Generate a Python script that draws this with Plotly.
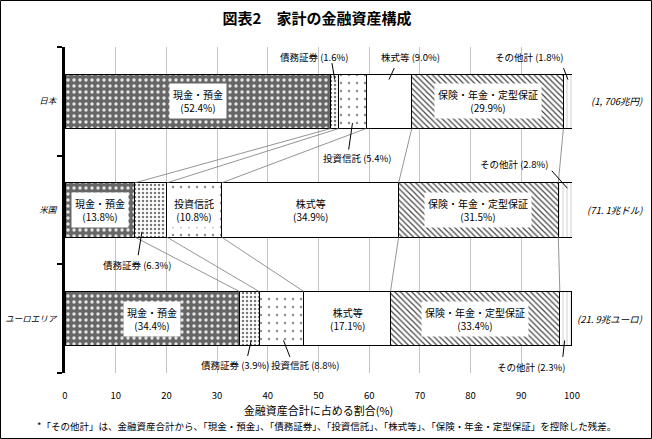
import plotly.graph_objects as go

# ---------------- data ----------------
regions = ["日本", "米国", "ユーロエリア"]
region_y = [2, 1, 0]
totals = ["(1, 706兆円)", "(71. 1兆ドル)", "(21. 9兆ユーロ)"]
components = ["現金・預金", "債務証券", "投資信託", "株式等", "保険・年金・定型保証", "その他計"]
cash = [52.4, 13.8, 34.4]
debt = [1.6, 6.3, 3.9]
funds = [5.4, 10.8, 8.8]
equity = [9.0, 34.9, 17.1]
insurance = [29.9, 31.5, 33.4]
other = [1.8, 2.8, 2.3]
x_ticks = list(range(0, 101, 10))

title = "図表2　家計の金融資産構成"
x_title = "金融資産合計に占める割合(%)"
footnote = "*「その他計」は、金融資産合計から、「現金・預金」、「債務証券」、「投資信託」、「株式等」、「保険・年金・定型保証」を控除した残差。"

series = [cash, debt, funds, equity, insurance, other]

# ---------------- styles ----------------
FONT = "Noto Sans CJK JP"
patterns = [
    dict(shape=".", bgcolor="#666666", fgcolor="#e6e6e6", size=6, solidity=0.25, fillmode="replace"),
    dict(shape=".", bgcolor="#ffffff", fgcolor="#777777", size=4, solidity=0.3, fillmode="replace"),
    dict(shape=".", bgcolor="#ffffff", fgcolor="#8a8a8a", size=8, solidity=0.07, fillmode="replace"),
    dict(shape="", bgcolor="#ffffff", fgcolor="#ffffff", size=8, solidity=0.1, fillmode="replace"),
    dict(shape="\\", bgcolor="#ffffff", fgcolor="#444444", size=4, solidity=0.3, fillmode="replace"),
    dict(shape="|", bgcolor="#ffffff", fgcolor="#a0a0a0", size=4, solidity=0.12, fillmode="replace"),
]

ML, MR, MT, MB = 65, 80, 47, 66
W, H = 652, 439
PW, PH = W - ML - MR, H - MT - MB

fig = go.Figure()
for name, vals, pat in zip(components, series, patterns):
    fig.add_trace(go.Bar(
        x=vals, y=region_y, orientation="h", name=name, width=0.5,
        marker=dict(color=pat["bgcolor"], line=dict(color="black", width=1), pattern=pat),
        hoverinfo="skip",
    ))

# cumulative positions
starts, mids, ends = [], [], []
for r in range(len(regions)):
    s, st, md, en = 0.0, [], [], []
    for vals in series:
        st.append(s)
        md.append(s + vals[r] / 2)
        s += vals[r]
        en.append(s)
    starts.append(st); mids.append(md); ends.append(en)

# connector lines between consecutive bars
for r in range(len(regions) - 1):
    for k in range(len(series) - 1):
        fig.add_shape(type="line", xref="x", yref="y",
                      x0=ends[r][k], y0=region_y[r] - 0.25,
                      x1=ends[r + 1][k], y1=region_y[r + 1] + 0.25,
                      line=dict(color="#787878", width=0.8), layer="above")

# inside labels (region index, component index)
inside = [(0, 0), (0, 4), (1, 0), (1, 2), (1, 3), (1, 4), (2, 0), (2, 3), (2, 4)]
for r, k in inside:
    fig.add_annotation(x=mids[r][k], y=region_y[r], xref="x", yref="y",
                       text=f"{components[k]}<br>({series[k][r]:.1f}%)",
                       showarrow=False, bgcolor="white", borderpad=3,
                       font=dict(family=FONT, size=10, color="black"))

# outside labels: (region, comp, text xshift, text yshift, tip side, tip xshift, tail ax, tail ay)
outside = [
    (0, 1, -20, 44, +1, 0, -3, -18),
    (0, 3, 22, 44, +1, 0, 6, -13),
    (0, 5, -38, 44, +1, 0, -5, -13),
    (0, 2, 5, -57, -1, 0, -4, 28),
    (1, 1, -13, -55, -1, -9, -4, 25),
    (1, 5, -51, 46, +1, 2, -17, -19),
    (2, 1, -14, -46, -1, 2, -4, 17),
    (2, 2, 24, -46, -1, 2, 7, 18),
    (2, 5, -34, -48, -1, -1, -2, 18),
]
for r, k, tx, ty, side, txs, ax, ay in outside:
    fig.add_annotation(x=mids[r][k], y=region_y[r], xref="x", yref="y",
                       xshift=tx, yshift=ty, showarrow=False,
                       text=f"{components[k]} ({series[k][r]:.1f}%)",
                       font=dict(family=FONT, size=9.5, color="black"))
    fig.add_annotation(x=mids[r][k], y=region_y[r] + 0.2 * side, xref="x", yref="y",
                       xshift=txs, text="", showarrow=True, arrowhead=0,
                       arrowwidth=1, arrowcolor="black", ax=ax, ay=ay)

# totals at right
for r in range(len(regions)):
    fig.add_annotation(x=1.0 + (645 - ML - PW) / PW, y=region_y[r], xref="paper", yref="y",
                       xanchor="right", text=totals[r], showarrow=False,
                       font=dict(family=FONT, size=9.5, color="black", style="italic"))

# footnote
fig.add_annotation(x=(W / 2 - ML) / PW, y=-(426 - (MT + PH)) / PH, xref="paper", yref="paper",
                   text=footnote, showarrow=False, xanchor="center", yanchor="middle",
                   font=dict(family=FONT, size=9.5, color="black"))

# frame around the whole image
fig.add_shape(type="rect", xref="paper", yref="paper",
              x0=-(ML - 0.5) / PW, x1=1 + (MR - 0.5) / PW,
              y0=-(MB - 0.5) / PH, y1=1 + (MT - 0.5) / PH,
              line=dict(color="black", width=1), layer="above")

fig.update_layout(
    width=W, height=H, barmode="stack", showlegend=False,
    margin=dict(l=ML, r=MR, t=MT, b=MB, autoexpand=False),
    paper_bgcolor="white", plot_bgcolor="white",
    font=dict(family=FONT, color="black"),
    title=dict(text=f"<b>{title}</b>", x=317 / W, xanchor="center", y=1 - 19 / H, yanchor="middle",
               font=dict(family=FONT, size=15, color="black")),
    xaxis=dict(range=[0, 100], tickvals=x_ticks, showgrid=True, gridcolor="#c4c4c4", gridwidth=1,
               zeroline=False, showline=False, ticks="outside", ticklen=14, tickcolor="rgba(0,0,0,0)",
               tickfont=dict(family=FONT, size=9.5), automargin=False,
               title=dict(text=x_title, standoff=2, font=dict(family=FONT, size=11))),
    yaxis=dict(range=[-0.5, 2.5], tickvals=region_y, ticktext=regions, showgrid=False, zeroline=False,
               showline=True, linewidth=3, linecolor="black", ticks="", automargin=False,
               ticklabelstandoff=4,
               tickfont=dict(family=FONT, size=8.5, style="italic"),
               minor=dict(tickvals=[-0.5, 0.5, 1.5, 2.5], ticks="outside", ticklen=5,
                          tickwidth=2, tickcolor="black")),
)

fig.write_html("out.html", config={"displayModeBar": False},
               post_script="document.body.style.margin='0';document.body.style.padding='0';")
